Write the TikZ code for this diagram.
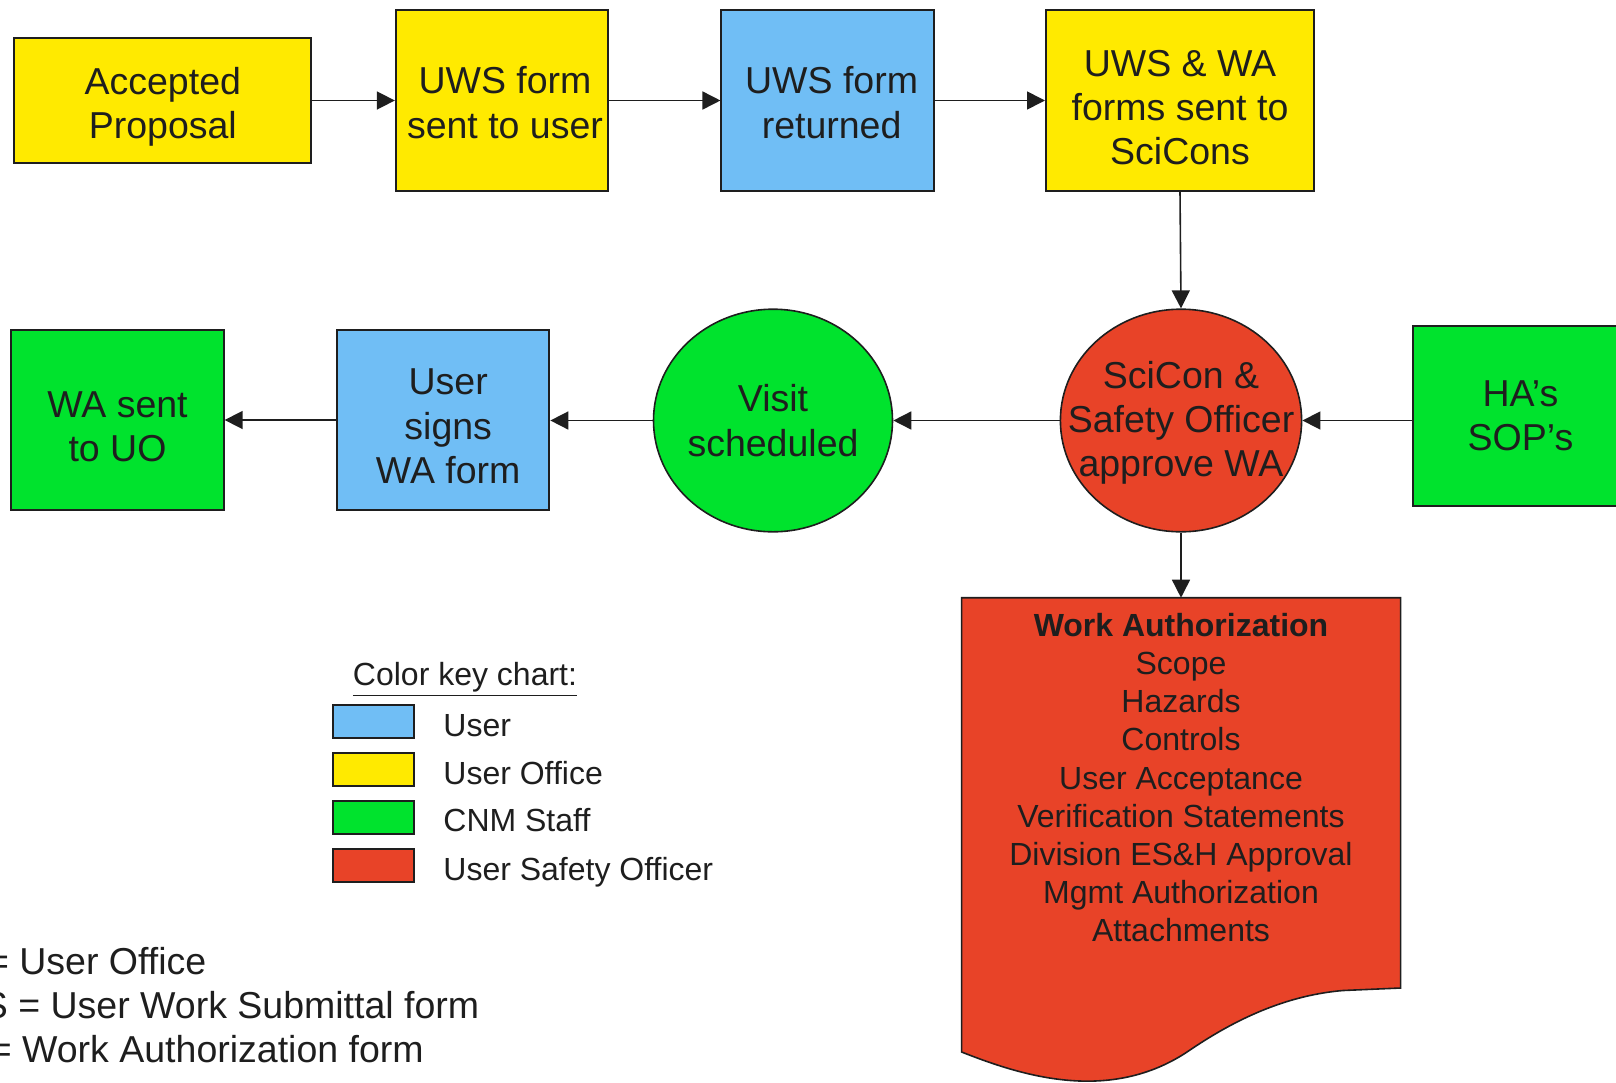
\documentclass[tikz,border=0pt]{standalone}
\usepackage{fontspec}
\setmainfont{Liberation Sans}
\usetikzlibrary{arrows.meta,shapes.geometric}
\definecolor{uoyellow}{RGB}{255,234,0}
\definecolor{userblue}{RGB}{112,190,245}
\definecolor{staffgreen}{RGB}{0,227,45}
\definecolor{safetyred}{RGB}{232,67,40}
\definecolor{ink}{RGB}{30,30,30}
\newcommand\bigtxt{\fontsize{18.75}{22.15}\selectfont}
\newcommand\keytxt{\fontsize{16}{19.1}\selectfont}

\begin{document}
\begin{tikzpicture}[x=0.5pt,y=-0.5pt,
  procbox/.style={draw=ink, line width=1pt, rectangle, inner sep=0pt},
  procell/.style={draw=ink, line width=0.8pt, ellipse, inner sep=0pt},
  boxtext/.style={align=center, font=\bigtxt, text=ink, inner sep=0pt},
  flow/.style={draw=ink, line width=0.8pt, -{Triangle[length=9pt,width=9pt]}},
  swatch/.style={draw=ink, line width=1pt, minimum width=40.5pt, minimum height=16.5pt, inner sep=0pt},
  keylabel/.style={anchor=base west, inner sep=0pt, font=\keytxt, text=ink},
  abbrev/.style={anchor=base west, inner sep=0pt, font=\bigtxt, text=ink},
]
\useasboundingbox (0,0) rectangle (1616,1082);
\clip (0,0) rectangle (1616,1082);

% top row
\node[procbox, fill=uoyellow, minimum width=148.4pt, minimum height=62.35pt,
  label={[boxtext, yshift=-3pt]center:{Accepted\\Proposal}}] (acc) at (162.8,100.5) {};
\node[procbox, fill=uoyellow, minimum width=106.15pt, minimum height=90.2pt,
  label={[boxtext, xshift=1.5pt, yshift=-1pt]center:{UWS form\\sent to user}}] (uwssent) at (502,100.5) {};
\node[procbox, fill=userblue, minimum width=106.15pt, minimum height=90.2pt,
  label={[boxtext, xshift=2pt, yshift=-1pt]center:{UWS form\\returned}}] (uwsret) at (827.6,100.5) {};
\node[procbox, fill=uoyellow, minimum width=134pt, minimum height=90.2pt,
  label={[boxtext, yshift=-3.5pt]center:{UWS \& WA\\forms sent to\\SciCons}}] (scisent) at (1180,100.5) {};

% middle row
\node[procell, fill=safetyred, minimum width=120.6pt, minimum height=111.3pt,
  label={[boxtext, yshift=-1.2pt]center:{SciCon \&\\Safety Officer\\approve WA}}] (approve) at (1181,420.5) {};
\node[procbox, fill=staffgreen, minimum width=107.5pt, minimum height=90.15pt,
  label={[boxtext]center:{HA’s\\SOP’s}}] (hasop) at (1520.5,415.9) {};
\node[procell, fill=staffgreen, minimum width=119.5pt, minimum height=111.3pt,
  label={[boxtext]center:{Visit\\scheduled}}] (visit) at (773,420.5) {};
\node[procbox, fill=userblue, minimum width=106.15pt, minimum height=90.15pt,
  label={[boxtext, xshift=2.5pt, yshift=-3.2pt]center:{User\\signs\\WA form}}] (usersigns) at (443.2,420) {};
\node[procbox, fill=staffgreen, minimum width=106.15pt, minimum height=90.15pt,
  label={[boxtext, yshift=-3.5pt]center:{WA sent\\to UO}}] (wasent) at (117.5,420) {};

% work authorization document
\coordinate (docTop) at (1181,597.7);
\filldraw[fill=safetyred, draw=ink, line width=0.8pt]
  (961.6,597.7) -- (1400.6,597.7) -- (1400.6,988) -- (1343,990.5)
  .. controls (1290,995) and (1240,1016) .. (1190,1050)
  .. controls (1110,1105) and (1020,1075) .. (961.6,1052) -- cycle;
\node[anchor=north, inner sep=0pt, align=center, font=\keytxt, text=ink] (watext) at (1181,612.7)
  {\textbf{Work Authorization}\\Scope\\Hazards\\Controls\\User Acceptance\\Verification Statements\\Division ES\&H Approval\\Mgmt Authorization\\Attachments};

% connectors
\draw[flow] (acc.east) -- (uwssent.west);
\draw[flow] (uwssent.east) -- (uwsret.west);
\draw[flow] (uwsret.east) -- (scisent.west);
\draw[flow] (scisent.south) -- (approve.north);
\draw[flow] (hasop.west |- approve.east) -- (approve.east);
\draw[flow] (approve.west) -- (visit.east);
\draw[flow] (visit.west) -- (usersigns.east |- visit.west);
\draw[flow] (usersigns.west) -- (wasent.east);
\draw[flow] (approve.south) -- (docTop);

% colour key
\node[anchor=base, inner sep=0pt, font=\keytxt, text=ink] (keytitle) at (465,685.5) {\underline{Color key chart:}};
\node[swatch, fill=userblue] (swuser) at (373.5,721.5) {};
\node[swatch, fill=uoyellow] (swuo) at (373.5,769.8) {};
\node[swatch, fill=staffgreen] (swstaff) at (373.5,817.3) {};
\node[swatch, fill=safetyred] (swsafety) at (373.5,865) {};
\node[keylabel] (lbuser) at (443,736) {User};
\node[keylabel] (lbuo) at (443,784.5) {User Office};
\node[keylabel] (lbstaff) at (443,831.8) {CNM Staff};
\node[keylabel] (lbsafety) at (443,880.3) {User Safety Officer};

% abbreviations
\node[abbrev] (abuo) at (-80,974) {UO = User Office};
\node[abbrev] (abuws) at (-80,1018) {UWS = User Work Submittal form};
\node[abbrev] (abwa) at (-80,1062) {WA = Work Authorization form};
\end{tikzpicture}
\end{document}
